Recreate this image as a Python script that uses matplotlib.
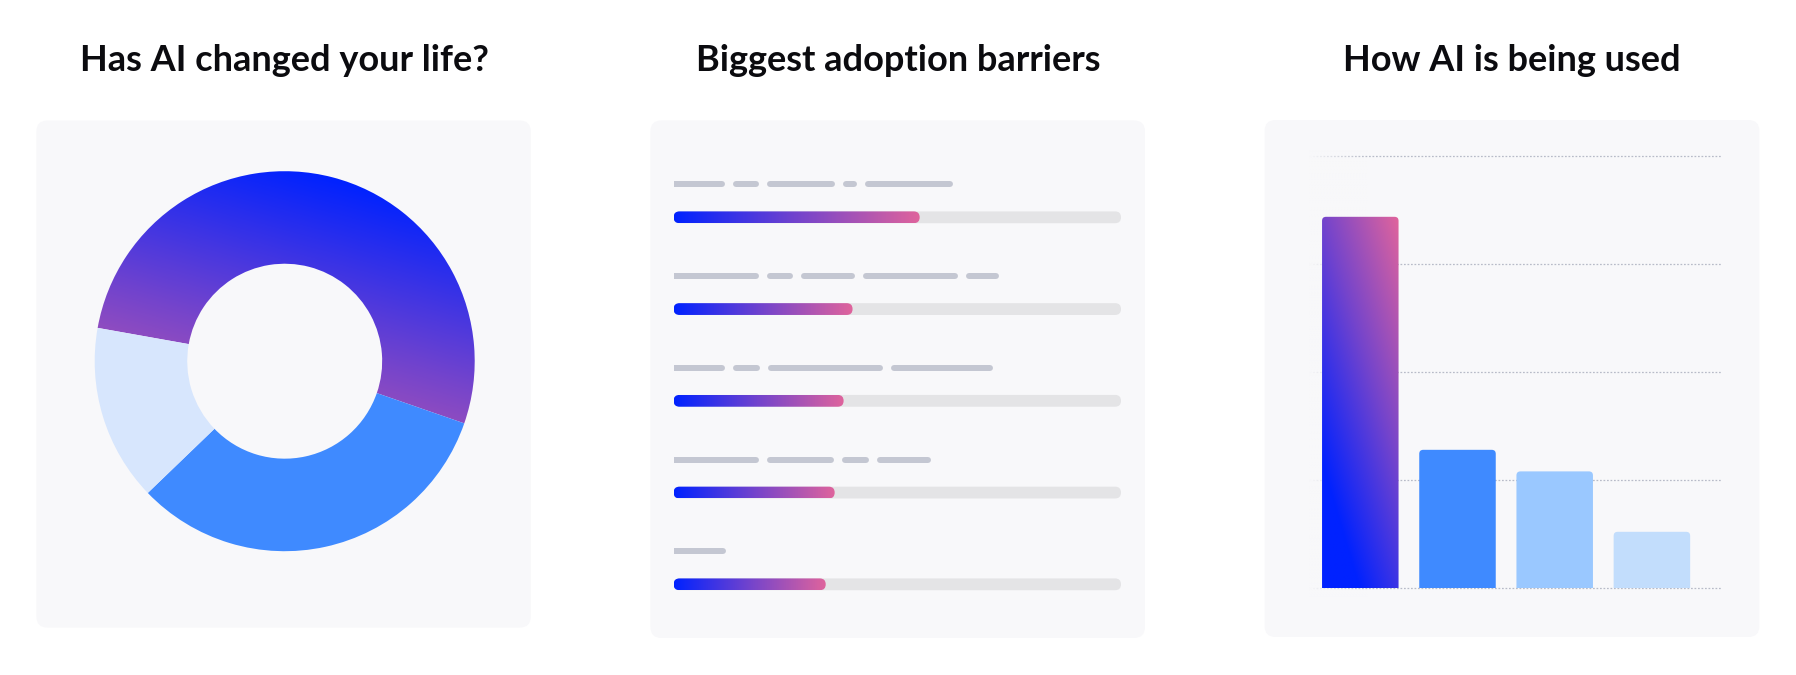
import numpy as np
import matplotlib
matplotlib.use('Agg')
import matplotlib.pyplot as plt
from matplotlib.patches import FancyBboxPatch
from matplotlib.colors import LinearSegmentedColormap

W, H = 1796, 675

titles = ["Has AI changed your life?", "Biggest adoption barriers", "How AI is being used"]

# donut: share of answers (gradient, blue, light)
life_shares = [52.5, 32.5, 15.0]
life_colors = ["none", "#3f8aff", "#d7e6fd"]

# progress bars (percent of track) and the grey placeholder "words" above them
barrier_values = [55, 40, 38, 36, 34]
barrier_words = [
    [12.0, 6.0, 15.2, 3.1, 19.7],
    [19.6, 6.0, 12.0, 21.2, 7.5],
    [12.1, 6.1, 25.7, 22.7],
    [19.6, 15.1, 6.0, 12.1],
    [12.2],
]

# usage bars
usage_values = [86, 32, 27, 13]
usage_colors = ["none", "#3f8aff", "#9ac8ff", "#c2ddfc"]
usage_grid = [0, 25, 50, 75, 100]

grad = LinearSegmentedColormap.from_list("grad", ["#0022ff", "#7444cc", "#e0649c"])
panel_bg = "#f8f8fa"


def box(x0, y0, x1, y1):
    return [x0 / W, 1 - y1 / H, (x1 - x0) / W, (y1 - y0) / H]


fig = plt.figure(figsize=(W / 100, H / 100), dpi=100)
fig.patch.set_facecolor("white")

# background layer with the rounded cards
bg = fig.add_axes([0, 0, 1, 1], zorder=0)
bg.set_xlim(0, W)
bg.set_ylim(H, 0)
bg.axis("off")
cards = [(36.4, 120.5, 530.8, 627.6), (650.4, 120.4, 1145, 638), (1264.6, 120, 1759.4, 637)]
for x0, y0, x1, y1 in cards:
    bg.add_patch(FancyBboxPatch((x0, y0), x1 - x0, y1 - y0,
                                boxstyle="round,pad=0,rounding_size=11",
                                fc=panel_bg, ec="none"))

centers = [284, 898, 1512]
for t, cx in zip(titles, centers):
    fig.text(cx / W, 1 - 71 / H, t, ha="center", va="baseline",
             fontsize=26, fontweight="bold", family=["Lato", "DejaVu Sans"], color="#0b0b0f")

# ---- donut
cx, cy, R = 284.7, 361.2, 190.0
ax1 = fig.add_axes(box(cx - 200, cy - 200, cx + 200, cy + 200), zorder=1)
wedges, _ = ax1.pie(life_shares, colors=life_colors, startangle=169.9, counterclock=False,
                    radius=1, wedgeprops=dict(width=0.487, linewidth=0))
lim = 200 / R
ax1.set_xlim(-lim, lim)
ax1.set_ylim(-lim, lim)
ax1.axis("off")
gx, gy = np.meshgrid(np.linspace(-1, 1, 400), np.linspace(-1, 1, 400))
th = np.deg2rad(15)
tt = -(gy * np.cos(th) + gx * np.sin(th))
tt = np.clip((tt + 1) / 2 * 1.15, 0, 1)
im = ax1.imshow(tt, cmap=grad, vmin=0, vmax=1, extent=(-1, 1, -1, 1), origin="lower",
                interpolation="bilinear", zorder=0.5)
im.set_clip_path(wedges[0])
ax1.set_xlim(-lim, lim)
ax1.set_ylim(-lim, lim)

# ---- progress bars
ax2 = fig.add_axes(box(673.6, 125.55, 1121, 630.2), zorder=1)
ax2.set_xlim(0, 100)
ax2.set_ylim(4.5, -1)
ax2.axis("off")
px_x = 447.4 / 100
px_y = 91.75
asp2 = (1 / px_y) / (1 / px_x)
hh = 11.8 / px_y / 2
r_bar = 5.9 / px_x
for i, (v, words) in enumerate(zip(barrier_values, barrier_words)):
    ax2.add_patch(FancyBboxPatch((0, i - hh), 100, 2 * hh,
                                 boxstyle=f"round,pad=0,rounding_size={r_bar}",
                                 mutation_aspect=asp2, fc="#e4e4e6", ec="none", zorder=1))
    fill = FancyBboxPatch((0, i - hh), v, 2 * hh,
                          boxstyle=f"round,pad=0,rounding_size={r_bar}",
                          mutation_aspect=asp2, fc="none", ec="none", zorder=2)
    ax2.add_patch(fill)
    g = ax2.imshow(np.linspace(0, 1, 256)[None, :], cmap=grad, aspect="auto",
                   extent=(0, v, i + hh, i - hh), zorder=2, interpolation="bilinear")
    g.set_clip_path(fill)
    # grey placeholder words
    ly = i - 33 / px_y
    r_w = 3 / px_x
    x = -0.58
    for w in words:
        ax2.plot([x + r_w, x + w - r_w], [ly, ly], color="#c4c7d2", lw=4.3,
                 solid_capstyle="round", zorder=2)
        x += w + 1.77
ax2.set_xlim(0, 100)
ax2.set_ylim(4.5, -1)

# ---- usage bars
base_px, top_px = 587.9, 156.4
ax3 = fig.add_axes(box(1309, 150, 1721.8, base_px), zorder=1)
ytop = 100 * (base_px - 150) / (base_px - top_px)
unit_px = 97.2
xl = (1309 - 1360.3) / unit_px
xr = (1721.8 - 1360.3) / unit_px
ax3.set_xlim(xl, xr)
ax3.set_ylim(0, ytop)
ax3.axis("off")
for gv in usage_grid:
    ax3.axhline(gv, color="#b8bbc8", lw=0.9, linestyle=(0, (1.4, 1.4)), zorder=0.5, clip_on=False)
# fade the left end of the grid lines into the card
fade = np.ones((2, 200, 4))
fade[..., :3] = matplotlib.colors.to_rgb(panel_bg)
fade[..., 3] = np.linspace(1, 0, 200)[None, :] ** 1.2
ax3.imshow(fade, extent=(xl, xl + 60 / unit_px, -2, ytop), aspect="auto", zorder=1,
           clip_on=False)
ax3.set_xlim(xl, xr)
ax3.set_ylim(0, ytop)

ppx_x = 1 / unit_px
ppx_y = ytop / (base_px - 150)
asp3 = ppx_y / ppx_x
r3 = 4 * ppx_x
bars = ax3.bar(range(len(usage_values)), usage_values, width=76.5 / unit_px)
for k, (rect, col) in enumerate(zip(bars, usage_colors)):
    x0, w, h = rect.get_x(), rect.get_width(), rect.get_height()
    rect.remove()
    p = FancyBboxPatch((x0, -r3 * asp3 * 2), w, h + r3 * asp3 * 2,
                       boxstyle=f"round,pad=0,rounding_size={r3}",
                       mutation_aspect=asp3, fc=col, ec="none", zorder=2)
    ax3.add_patch(p)
    if col == "none":
        u, vv = np.meshgrid(np.linspace(0, 1, 60), np.linspace(0, 1, 300))
        tb = np.clip(-0.24 + 0.5 * u + 0.74 * vv, 0, 1)
        gi = ax3.imshow(tb, cmap=grad, vmin=0, vmax=1, origin="lower", aspect="auto",
                        extent=(x0, x0 + w, 0, h), zorder=2, interpolation="bilinear")
        gi.set_clip_path(p)
ax3.set_xlim(xl, xr)
ax3.set_ylim(0, ytop)

fig.savefig("out.png", dpi=100)
